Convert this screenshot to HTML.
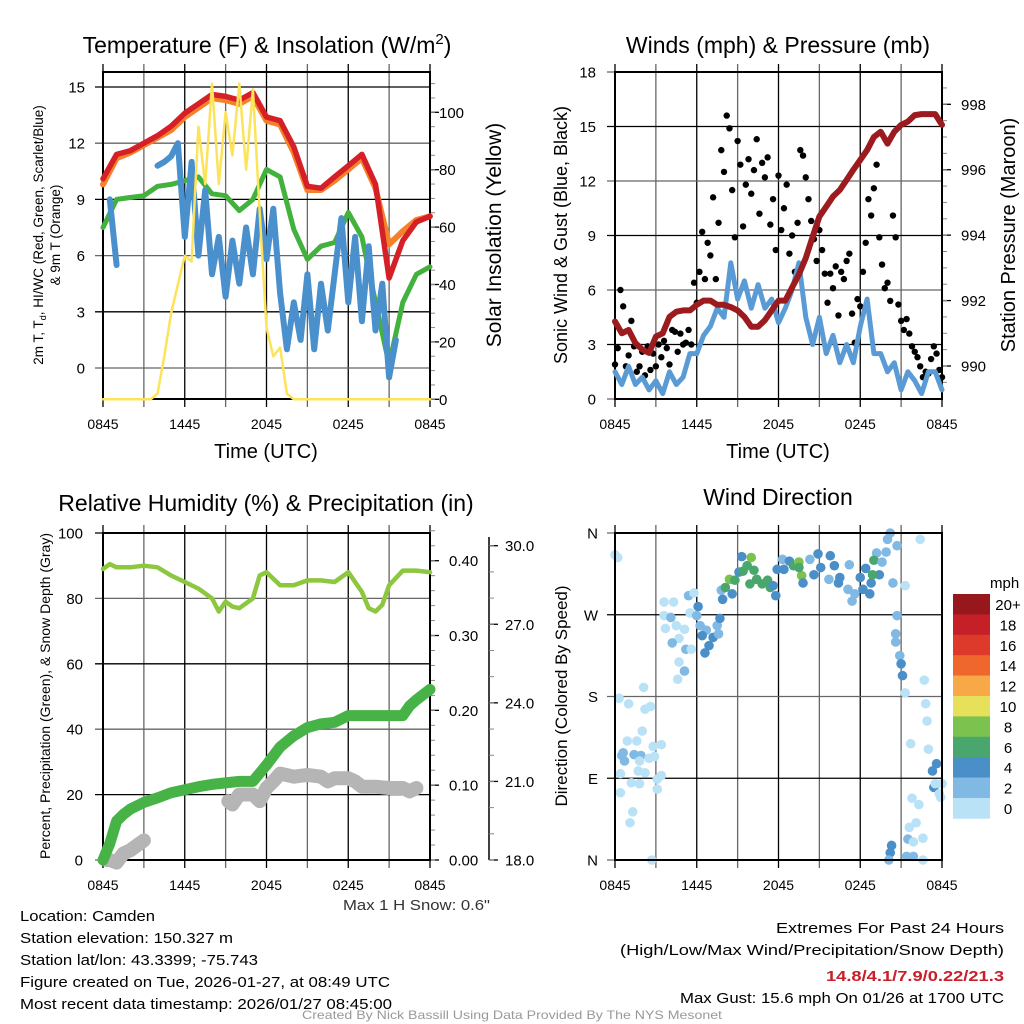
<!DOCTYPE html>
<html><head><meta charset="utf-8"><style>
html,body{margin:0;padding:0;background:#fff;}
svg{display:block;font-family:"Liberation Sans",sans-serif;}
</style></head><body>
<svg id="fig" width="1024" height="1024" viewBox="0 0 1024 1024" xmlns="http://www.w3.org/2000/svg">
<rect x="0" y="0" width="1024" height="1024" fill="#fff"/>
<g id="layer"></g>
<text x="267" y="53" font-size="23" text-anchor="middle">Temperature (F) &amp; Insolation (W/m<tspan dy="-9" font-size="15">2</tspan><tspan dy="9">)</tspan></text>
<text x="778" y="53" font-size="23" text-anchor="middle">Winds (mph) &amp; Pressure (mb)</text>
<text x="266" y="511" font-size="23" text-anchor="middle">Relative Humidity (%) &amp; Precipitation (in)</text>
<text x="778" y="505" font-size="23" text-anchor="middle">Wind Direction</text>
<text x="266" y="458" font-size="20" text-anchor="middle">Time (UTC)</text>
<text x="778" y="458" font-size="20" text-anchor="middle">Time (UTC)</text>
<text transform="translate(43,235) rotate(-90)" font-size="13.5" text-anchor="middle">2m T, T<tspan font-size="9" dy="3">d</tspan><tspan dy="-3">, HI/WC (Red, Green, Scarlet/Blue)</tspan></text>
<text transform="translate(60,235) rotate(-90)" font-size="13.5" text-anchor="middle">&amp; 9m T (Orange)</text>
<text transform="translate(501,235) rotate(-90)" font-size="21" text-anchor="middle">Solar Insolation (Yellow)</text>
<text transform="translate(567,235) rotate(-90)" font-size="18" text-anchor="middle">Sonic Wind &amp; Gust (Blue, Black)</text>
<text transform="translate(1015,235) rotate(-90)" font-size="20" text-anchor="middle">Station Pressure (Maroon)</text>
<text transform="translate(50,696) rotate(-90)" font-size="14" text-anchor="middle">Percent, Precipitation (Green), &amp; Snow Depth (Gray)</text>
<text transform="translate(567,696) rotate(-90)" font-size="17" text-anchor="middle">Direction (Colored By Speed)</text>
<text x="490" y="910" font-size="14.5" text-anchor="end" fill="#333" textLength="147" lengthAdjust="spacingAndGlyphs">Max 1 H Snow: 0.6"</text>
<g font-size="15">
<text x="20" y="921" textLength="135" lengthAdjust="spacingAndGlyphs">Location: Camden</text>
<text x="20" y="943" textLength="213" lengthAdjust="spacingAndGlyphs">Station elevation: 150.327 m</text>
<text x="20" y="965" textLength="238" lengthAdjust="spacingAndGlyphs">Station lat/lon: 43.3399; -75.743</text>
<text x="20" y="987" textLength="370" lengthAdjust="spacingAndGlyphs">Figure created on Tue, 2026-01-27, at 08:49 UTC</text>
<text x="20" y="1009" textLength="372" lengthAdjust="spacingAndGlyphs">Most recent data timestamp: 2026/01/27 08:45:00</text>
</g>
<g font-size="15" text-anchor="end">
<text x="1004" y="933" textLength="228" lengthAdjust="spacingAndGlyphs">Extremes For Past 24 Hours</text>
<text x="1004" y="955" textLength="384" lengthAdjust="spacingAndGlyphs">(High/Low/Max Wind/Precipitation/Snow Depth)</text>
<text x="1004" y="981" font-weight="bold" fill="#c8202a" textLength="178" lengthAdjust="spacingAndGlyphs">14.8/4.1/7.9/0.22/21.3</text>
<text x="1004" y="1003" textLength="324" lengthAdjust="spacingAndGlyphs">Max Gust: 15.6 mph On 01/26 at 1700 UTC</text>
</g>
<text x="512" y="1019" font-size="12" fill="#999" text-anchor="middle" textLength="420" lengthAdjust="spacingAndGlyphs">Created By Nick Bassill Using Data Provided By The NYS Mesonet</text>
</svg>
<script>
// ---- data ----
const timeTickLabels = ["0845","1445","2045","0245","0845"];
const hourly = [0,1,2,3,4,5,6,7,8,9,10,11,12,13,14,15,16,17,18,19,20,21,22,23,24];
const tempRed = [10.1,11.4,11.6,12.0,12.4,12.9,13.6,14.1,14.6,14.5,14.3,14.7,13.4,13.2,11.8,9.7,9.6,10.2,10.8,11.4,9.8,4.8,6.8,7.8,8.1];
const temp9mOrange = [9.8,11.2,11.5,11.9,12.3,12.7,13.4,13.9,14.4,14.3,14.1,14.5,13.2,13.0,11.5,9.5,9.5,10.0,10.6,11.2,9.6,6.6,7.3,7.9,8.1];
const dewGreen = [7.5,9.0,9.1,9.2,9.7,9.8,10.0,10.2,9.3,9.2,8.4,9.0,10.6,10.2,7.4,5.8,6.5,6.7,8.3,7.0,3.5,0.2,3.5,5.0,5.4];
const halfHours = [0,0.5,1,1.5,2,2.5,3,3.5,4,4.5,5,5.5,6,6.5,7,7.5,8,8.5,9,9.5,10,10.5,11,11.5,12,12.5,13,13.5,14,14.5,15,15.5,16,16.5,17,17.5,18,18.5,19,19.5,20,20.5,21,21.5,22,22.5,23,23.5,24];
const windChillBlue = [null,9.0,5.5,null,null,null,null,null,10.8,11.0,11.3,12.0,7.0,11.0,6.0,9.5,5.0,7.0,3.8,6.8,4.5,7.5,5.0,8.5,5.8,8.5,4.0,1.0,3.5,1.5,5.0,1.0,4.5,2.0,5.0,8.0,3.5,7.0,2.5,6.5,2.0,4.5,-0.5,1.5,null,null,null,5.0,null];
const insolation = [0,0,0,0,0,0,0,0,2,15,30,40,50,48,95,75,110,75,100,85,110,80,108,65,25,15,18,2,0,0,0,0,0,0,0,0,0,0,0,0,0,0,0,0,0,0,0,0,0];
const tempTicks = [0,3,6,9,12,15];
const insolTicks = [0,20,40,60,80,100];

const sonicWind = [1.5,0.8,1.8,0.8,1.2,0.5,1.0,0.3,1.5,0.8,1.2,2.5,2.5,3.5,4.0,5.0,4.5,7.5,5.5,6.5,5.0,6.3,5.0,5.5,4.2,5.0,6.0,7.5,4.5,3.0,4.5,2.5,3.5,2.0,3.0,2.0,4.0,5.5,2.5,2.5,1.5,2.0,0.5,1.5,1.0,0.3,1.5,1.5,0.5];
const pressure = [991.36,991.0,991.1,990.7,990.5,990.4,990.9,991.0,991.5,991.66,991.7,991.7,991.87,992.0,992.0,991.87,991.87,991.8,991.7,991.5,991.2,991.2,991.4,991.7,992.0,992.0,992.4,992.8,993.3,993.95,994.57,994.87,995.18,995.38,995.69,996.0,996.3,996.6,997.0,997.16,996.8,997.16,997.37,997.47,997.67,997.7,997.7,997.7,997.37];
const gusts = [1.9,2.8,6.0,5.1,1.8, 2.4,4.3,2.9,1.5,1.8, 2.6,1.3,2.9,1.6,2.5, 1.8,3.0,2.3,3.2,2.8, 1.9,3.8,3.7,2.6,3.6, 3.0,3.1,3.8,3.0,6.4, 5.3,7.0,9.2,6.6,8.6, 7.9,11.1,6.6,9.7,13.7, 12.5,15.6,14.9,11.5,8.9, 14.2,12.9,9.5,11.8,13.2, 11.3,12.6,14.3,10.2,13.0, 12.2,13.3,9.6,11.0,8.2, 12.3,9.3,10.5,11.8,8.0, 9.0,7.0,9.7,13.7,13.4, 12.2,11.0,9.8,8.8,7.6, 9.3,8.2,6.9,5.3,6.9, 6.1,7.3,4.6,7.0,6.6, 7.6,8.0,4.7,3.1,5.5, 5.1,7.0,8.6,11.0,10.1, 11.6,12.9,8.9,7.4,6.1, 6.4,5.4,10.1,8.9,5.2, 4.3,3.8,4.4,3.6,2.9, 2.6,2.3,1.8,1.2,1.5, 1.4,2.2,2.9,2.5,1.6, 1.2];
const windTicks = [0,3,6,9,12,15,18];
const pressureTicks = [990,992,994,996,998];

const rhHours = [0,0.5,1,2,3,4,5,6,7,8,8.5,9,9.5,10,11,11.5,12,13,14,15,16,17,18,19,19.5,20,20.5,21,22,23,24];
const rh = [89,90.5,89.5,89.5,90,89.5,87,85,83,80,76,79,77.5,77,80,87,88,84,84,85.5,85.5,85,88,82,77,76,78,84,88.5,88.5,88];
const precipHours = [0,0.5,1,1.5,2,3,4,5,6,7,8,9,10,11,12,13,14,15,16,17,18,19,20,21,22,22.5,23,24];
const precip = [0,0.022,0.052,0.061,0.068,0.077,0.083,0.090,0.094,0.098,0.101,0.103,0.105,0.105,0.127,0.151,0.166,0.177,0.182,0.184,0.193,0.193,0.193,0.193,0.193,0.206,0.214,0.228];
const snowHours = [0.3,0.5,1,1.5,2,2.5,3,null,9.2,9.5,10,11,11.5,12,12.5,13,14,15,16,16.5,17,18,18.5,19,20,21,22,22.5,23];
const snowDepth = [18.0,18.0,17.9,18.25,18.37,18.56,18.75,null,20.25,20.12,20.5,20.5,20.25,20.75,21.0,21.3,21.18,21.25,21.18,21.0,21.12,21.12,21.0,20.8,20.8,20.75,20.75,20.62,20.75];
const pctTicks = [0,20,40,60,80,100];
const precipTicks = ["0.00","0.10","0.20","0.30","0.40"];
const snowTicks = ["18.0","21.0","24.0","27.0","30.0"];

const dirHours = [0,0.2,0.3,1.0,2.1,2.2,2.6,2.0,1.6,0.9,0.6,0.5,0.7,1.4,1.9,2.5,2.9,2.8,3.4,1.8,1.7,2.2,0.4,1.2,1.8,3.1,3.4,0.4,3.1,1.3,1.1,2.7,3.6,4.3,5.4,5.8,3.6,4.1,3.7,4.5,5.1,4.7,4.2,5.2,5.6,4.7,5.1,4.6,5.5,6.1,6.0,6.25,6.7,6.4,7.2,7.6,6.9,6.6,7.5,7.7,7.8,7.9,8.1,8.4,8.6,8.8,9.1,9.3,9.4,9.7,10.0,10.2,9.9,10.4,10.8,11.2,11.4,11.6,11.8,11.9,12.3,12.4,12.8,13.1,13.5,13.7,13.5,13.8,14.3,14.6,14.9,15.1,15.8,16.1,15.7,16.4,16.5,17.2,17.1,17.4,17.6,18.0,18.2,18.7,18.8,18.4,19.2,19.0,19.4,18.9,19.9,19.6,20.0,20.2,20.7,20.4,21.3,22.4,20.7,20.6,20.6,20.9,21.0,21.1,21.3,22.7,22.8,22.9,21.7,23.0,23.6,23.3,23.4,23.5,23.8,24,23.9,21.8,22.3,22.1,21.6,21.5,22.6,21.9,20.3,20.2,20.1,21.4,21.9,22.6];
const dirDegrees = [336,333,178,172,190,166,169,142,131,131,118,115,109,116,115,112,114,125,127,109,98,96,95,85,84,89,93,74,78,53,41,0,284,284,291,294,269,267,255,258,254,244,239,232,232,218,208,199,272,279,269,258,253,247,245,249,236,228,258,266,297,287,300,309,293,308,317,334,318,324,333,319,304,309,304,308,300,302,291,320,331,320,329,324,328,313,322,305,331,314,337,322,335,324,309,305,311,325,298,285,293,311,298,293,305,321,338,330,314,314,339,328,353,360,346,305,302,353,269,249,240,225,216,203,184,198,172,153,128,122,106,98,80,84,73,84,69,68,61,41,36,23,24,20,16,8,0,4,4,0];
const dirSpeeds = [1,1,1,1,1,1,1,1,1,1,3,3,3,3,3,1,1,1,1,1,1,1,1,1,1,1,1,1,1,1,1,1,1,1,3,1,1,3,1,1,1,1,3,3,1,1,3,1,1,5,3,3,3,5,5,3,5,5,3,5,3,5,7,9,5,7,5,5,7,7,9,7,7,7,7,7,7,5,5,5,3,5,5,7,9,9,7,5,3,5,5,5,5,5,3,5,5,3,3,3,3,5,5,5,5,5,3,7,5,7,3,3,3,3,3,3,1,1,3,3,3,3,5,5,1,1,1,1,1,1,5,5,5,1,1,1,1,1,1,1,1,3,1,1,5,5,3,3,3,1];
const dirTickLabels = ["N","E","S","W","N"];
const speedBinLabels = ["0","2","4","6","8","10","12","14","16","18","20+"];
const speedBinColors = ["#b9e2f6","#7fb9e4","#4a8fc8","#49a76e","#7bc24e","#e7e05b","#f7a947","#f0672d","#de3a2b","#c51f28","#96171c"];

// ---- helpers ----
const NS = "http://www.w3.org/2000/svg";
const layer = document.getElementById("layer");
function mk(tag, attrs, parent) {
  const e = document.createElementNS(NS, tag);
  for (const k in attrs) e.setAttribute(k, attrs[k]);
  (parent || layer).appendChild(e);
  return e;
}
function scale(d0, d1, r0, r1) { return v => r0 + (v - d0) * (r1 - r0) / (d1 - d0); }
function pathD(xs, ys, fx, fy) {
  let d = "", pen = false;
  for (let i = 0; i < xs.length; i++) {
    if (ys[i] === null || xs[i] === null) { pen = false; continue; }
    d += (pen ? "L" : "M") + fx(xs[i]).toFixed(1) + "," + fy(ys[i]).toFixed(1);
    pen = true;
  }
  return d;
}
function series(xs, ys, fx, fy, color, w, name) {
  const p = mk("path", {d: pathD(xs, ys, fx, fy), fill: "none", stroke: color, "stroke-width": w, "stroke-linejoin": "round", "stroke-linecap": "round"});
  
  
  return p;
}
function panelFrame(L, R, T, B, name) {
  const g = mk("g", {});
  
  
  return g;
}
function vgrid(g, L, R, T, B, fx, labels) {
  for (let h = 0; h <= 24; h += 3) {
    const x = fx(h);
    const ln = mk("line", {x1: x, x2: x, y1: T - 8, y2: B + 8, stroke: (h % 6 === 0) ? "#000" : "#666", "stroke-width": 1.3}, g);
    
    
  }
  if (labels) {
    for (let i = 0; i < labels.length; i++) {
      const t = mk("text", {x: fx(i * 6), y: B + 30, "font-size": 14, "text-anchor": "middle"}, g);
      t.textContent = labels[i];
      
      
    }
  }
}
function hgrid(g, L, R, vals, fy, labels, lx) {
  for (let i = 0; i < vals.length; i++) {
    const y = fy(vals[i]);
    const ln = mk("line", {x1: L - 8, x2: R, y1: y, y2: y, stroke: i % 2 ? "#000" : "#666", "stroke-width": 1.3}, g);
    
    
    const t = mk("text", {x: lx, y: y + 5.5, "font-size": 15, "text-anchor": "end"}, g);
    t.textContent = labels[i];
    
    
  }
}
function border(g, L, R, T, B) {
  const r = mk("rect", {x: L, y: T, width: R - L, height: B - T, fill: "none", stroke: "#000", "stroke-width": 2}, g);
  
  
}
function rightAxis(g, x, vals, fy, labels, minorVals, lx) {
  for (let i = 0; i < vals.length; i++) {
    const y = fy(vals[i]);
    const tk = mk("line", {x1: x, x2: x + 9, y1: y, y2: y, stroke: "#000", "stroke-width": 1.3}, g);
    
    
    const t = mk("text", {x: lx, y: y + 5.5, "font-size": 15}, g);
    t.textContent = labels[i];
    
    
  }
  for (const v of minorVals) {
    const y = fy(v);
    const tk = mk("line", {x1: x, x2: x + 5, y1: y, y2: y, stroke: "#888", "stroke-width": 1}, g);
    
    
  }
}
function range(a, b, s) { const o = []; for (let v = a; v <= b + 1e-9; v += s) o.push(+v.toFixed(4)); return o; }

// ---- Panel 1: temperature ----
(function () {
  const L = 103, R = 430, T = 72, B = 399;
  const g = panelFrame(L, R, T, B, "temperature-panel");
  const fx = scale(0, 24, L, R);
  const fy = scale(0, 15, 368, 87);
  const fi = scale(0, 100, 399.3, 112.3);
  vgrid(g, L, R, T, B, fx, timeTickLabels);
  hgrid(g, L, R, tempTicks, fy, tempTicks.map(String), 85);
  series(hourly, temp9mOrange, fx, fy, "#f5822a", 6, "temp-9m-orange-line");
  series(hourly, tempRed, fx, fy, "#d62027", 5.5, "temp-2m-red-line");
  series(hourly, dewGreen, fx, fy, "#43b13d", 5, "dewpoint-green-line");
  series(halfHours, windChillBlue, fx, fy, "#4a90cc", 6, "windchill-blue-line");
  series(halfHours, insolation, fx, fi, "#fde35a", 2.5, "insolation-yellow-line");
  rightAxis(g, R, insolTicks, fi, insolTicks.map(String), range(0, 110, 5), 439);
  border(g, L, R, T, B);
})();

// ---- Panel 2: winds & pressure ----
(function () {
  const L = 615, R = 942, T = 72, B = 399;
  const g = panelFrame(L, R, T, B, "wind-panel");
  const fx = scale(0, 24, L, R);
  const fy = scale(0, 18, B, T);
  const fp = scale(990, 998, 366, 104.3);
  vgrid(g, L, R, T, B, fx, timeTickLabels);
  hgrid(g, L, R, windTicks, fy, windTicks.map(String), 596);
  series(halfHours, sonicWind, fx, fy, "#5a9bd5", 5, "sonic-wind-blue-line");
  for (let i = 0; i < gusts.length; i++) {
    const c = mk("circle", {cx: fx(i * 0.2), cy: fy(gusts[i]), r: 3.2, fill: "#000"}, g);
    
    
  }
  series(halfHours, pressure, fx, fp, "#9b1b1e", 6, "pressure-maroon-line");
  rightAxis(g, R, pressureTicks, fp, pressureTicks.map(String), range(989.5, 998.5, 0.5), 961);
  border(g, L, R, T, B);
})();

// ---- Panel 3: humidity & precip ----
(function () {
  const L = 103, R = 430, T = 533, B = 860;
  const g = panelFrame(L, R, T, B, "humidity-panel");
  const fx = scale(0, 24, L, R);
  const fy = scale(0, 100, B, T);
  const fpr = scale(0, 0.4, B, 560.7);
  const fs = scale(18, 30, B, 545.7);
  vgrid(g, L, R, T, B, fx, timeTickLabels);
  hgrid(g, L, R, pctTicks, fy, pctTicks.map(String), 83);
  series(rhHours, rh, fx, fy, "#8dc63f", 4.5, "humidity-line");
  series(snowHours, snowDepth, fx, fs, "#b5b5b5", 14, "snow-depth-gray-line");
  series(precipHours, precip, fx, fpr, "#47b347", 11, "precipitation-green-line");
  rightAxis(g, R, precipTicks.map(Number), fpr, precipTicks, range(0, 0.44, 0.02), 449);
  const ax = mk("line", {x1: 489, x2: 489, y1: 537, y2: B, stroke: "#000", "stroke-width": 1.5}, g);
  
  
  rightAxis(g, 489, snowTicks.map(Number), fs, snowTicks, range(18, 30, 1), 505);
  border(g, L, R, T, B);
})();

// ---- Panel 4: wind direction ----
(function () {
  const L = 615, R = 942, T = 533, B = 860;
  const g = panelFrame(L, R, T, B, "direction-panel");
  const fx = scale(0, 24, L, R);
  const fy = scale(0, 360, B, T);
  vgrid(g, L, R, T, B, fx, timeTickLabels);
  hgrid(g, L, R, [0, 90, 180, 270, 360], fy, dirTickLabels, 598);
  for (let i = 0; i < dirDegrees.length; i++) {
    const bin = Math.min(10, Math.floor(dirSpeeds[i] / 2));
    const c = mk("circle", {cx: fx(dirHours[i]), cy: fy(dirDegrees[i]), r: 4.8, fill: speedBinColors[bin]}, g);
    
    
  }
  border(g, L, R, T, B);
  const cb = mk("g", {}, layer);
  
  
  const t0 = mk("text", {x: 990, y: 588, "font-size": 15}, cb);
  t0.textContent = "mph";
  
  
  const top = 594, h = 20.4;
  for (let k = 0; k < speedBinColors.length; k++) {
    const idx = speedBinColors.length - 1 - k;
    const r = mk("rect", {x: 953, y: top + k * h, width: 37, height: h + 0.3, fill: speedBinColors[idx]}, cb);
    
    
    const t = mk("text", {x: 1008, y: top + k * h + 16, "font-size": 15, "text-anchor": "middle"}, cb);
    t.textContent = speedBinLabels[idx];
    
    
  }
})();
</script>
</body></html>
